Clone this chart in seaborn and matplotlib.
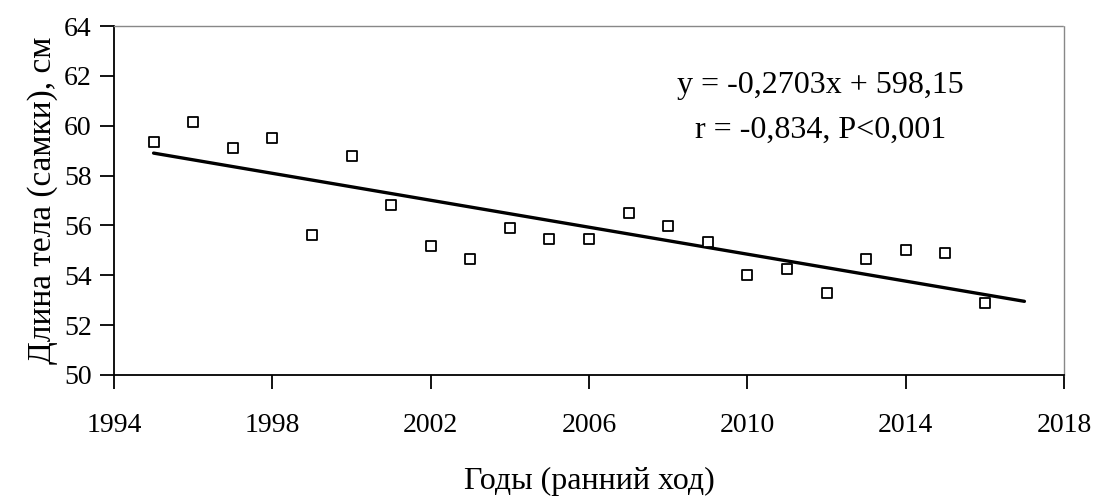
import numpy as np
import pandas as pd
import matplotlib
matplotlib.use("Agg")
import matplotlib.pyplot as plt
import seaborn as sns

# Female body length by year (early run)
years = [1995, 1996, 1997, 1998, 1999, 2000, 2001, 2002, 2003, 2004, 2005,
         2006, 2007, 2008, 2009, 2010, 2011, 2012, 2013, 2014, 2015, 2016]
length_cm = [59.35, 60.15, 59.1, 59.5, 55.6, 58.8, 56.8, 55.18, 54.65, 55.9, 55.45,
             55.45, 56.5, 55.98, 55.35, 54.0, 54.25, 53.29, 54.65, 55.0, 54.9, 52.89]

# Linear trend as stated in the annotation
trend_slope = -0.2703
trend_intercept = 598.15
trend_years = [1995, 2017]

x_ticks = [1994, 1998, 2002, 2006, 2010, 2014, 2018]
y_ticks = [50, 52, 54, 56, 58, 60, 62, 64]

sns.set_style("white")
plt.rcParams["font.family"] = ["Liberation Serif", "DejaVu Serif"]
plt.rcParams["text.color"] = "black"
plt.rcParams["axes.labelcolor"] = "black"

fig = plt.figure(figsize=(10.93, 4.99), dpi=100)
ax = fig.add_axes([114 / 1093, 1 - 375 / 499, (1064 - 114) / 1093, (375 - 26) / 499])

df = pd.DataFrame({"year": years, "length": length_cm})
trend = pd.DataFrame({"year": trend_years,
                      "length": [trend_slope * y + trend_intercept for y in trend_years]})

sns.lineplot(data=trend, x="year", y="length", ax=ax, color="black", lw=2.4, zorder=2)
sns.scatterplot(data=df, x="year", y="length", ax=ax, marker="s", s=62,
                facecolor="white", edgecolor="black", linewidth=1.3, zorder=3)

ax.set_xlim(1994, 2018)
ax.set_ylim(50, 64)
ax.set_xticks(x_ticks)
ax.set_yticks(y_ticks)
ax.tick_params(axis="both", labelsize=20, colors="black", labelcolor="black",
               direction="out", length=10, width=1.3)
ax.tick_params(axis="x", bottom=True, top=False, pad=17)
ax.tick_params(axis="y", left=True, right=False, pad=6)

for side in ("left", "bottom"):
    ax.spines[side].set_color("black")
    ax.spines[side].set_linewidth(1.3)
for side in ("top", "right"):
    ax.spines[side].set_color("#888888")
    ax.spines[side].set_linewidth(1.0)
    ax.spines[side].set_linestyle((0, (1, 1)))

ax.set_xlabel("Годы (ранний ход)", fontsize=23, labelpad=21)
ax.set_ylabel("Длина тела (самки), см", fontsize=24, labelpad=4)

ax.text(0.744, 0.83, "y = -0,2703x + 598,15", transform=ax.transAxes,
        fontsize=23, ha="center", va="center")
ax.text(0.744, 0.70, "r = -0,834, P<0,001", transform=ax.transAxes,
        fontsize=23, ha="center", va="center")

fig.savefig("out.png", dpi=100)
